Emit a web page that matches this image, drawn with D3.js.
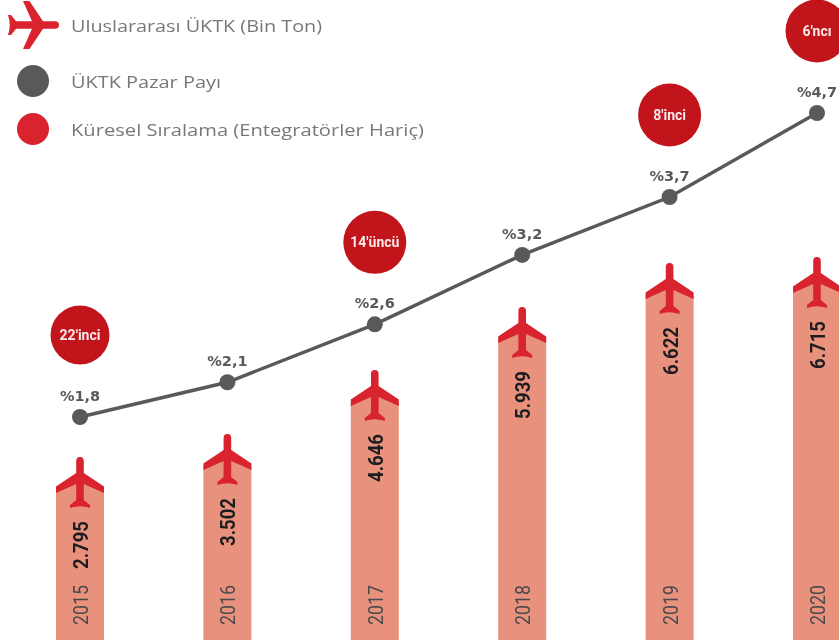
<!DOCTYPE html>
<html><head><meta charset="utf-8">
<script src="https://cdnjs.cloudflare.com/ajax/libs/d3/7.8.5/d3.min.js"></script>
<style>html,body{margin:0;padding:0;background:#fff;overflow:hidden}svg{display:block;filter:blur(0.75px)}</style>
</head><body><div id="c"></div>
<script>
const years=["2015","2016","2017","2018","2019","2020"];
const tonnage=[2795,3502,4646,5939,6622,6715];
const tonnageLabels=["2.795","3.502","4.646","5.939","6.622","6.715"];
const share=[1.8,2.1,2.6,3.2,3.7,4.7];
const shareLabels=["%1,8","%2,1","%2,6","%3,2","%3,7","%4,7"];
const ranks=["22'inci",null,"14'üncü",null,"8'inci","6'ncı"];
const legendLabels=["Uluslararası ÜKTK (Bin Ton)","ÜKTK Pazar Payı","Küresel Sıralama (Entegratörler Hariç)"];
const W=839,H=640,RED="#d9232e",DARK="#c1141b",BAR="#e8917c",GREY="#58595b";
const planePath="M-3.8,-29 Q-3.8,-33 0,-33 Q3.8,-33 3.8,-29 L3.8,-17 L24,-3.5 L24,3 L3.8,-6 L3.8,10 L10,15 L10,18 Q0,14.5 -10,18 L-10,15 L-3.8,10 L-3.8,-6 L-24,3 L-24,-3.5 L-3.8,-17 Z";

const x=d3.scalePoint().domain(years).range([80,817]);
const yBar=d3.scaleLinear().domain([2795,3502,4646,5939,6715]).range([490,467,403,340,290]);
const yLine=d3.scaleLinear().domain([1.8,3.7,4.7]).range([417,197,113]);
const svg=d3.select("#c").append("svg").attr("width",W).attr("height",H);
const rows=years.map((y,i)=>({y,t:tonnage[i],tl:tonnageLabels[i],s:share[i],sl:shareLabels[i],r:ranks[i]}));
const COND="Roboto,sans-serif";

svg.selectAll("path.bar").data(rows).join("path").attr("class","bar")
 .attr("d",d=>{const c=x(d.y),t=yBar(d.t);return `M${c-24},${H+5}V${t}L${c},${t-14}L${c+24},${t}V${H+5}Z`;}).attr("fill",BAR);
svg.selectAll("path.plane").data(rows).join("path").attr("class","plane").attr("d",planePath).attr("fill",RED)
 .attr("transform",d=>`translate(${x(d.y)},${yBar(d.t)})`);
svg.selectAll("text.val").data(rows).join("text").attr("class","val").text(d=>d.tl)
 .attr("transform",d=>`translate(${x(d.y)+8},${yBar(d.t)+55}) rotate(-90)`)
 .attr("text-anchor","middle").attr("font-family",COND).attr("font-weight",700).attr("font-size",21)
 .attr("textLength",48).attr("lengthAdjust","spacingAndGlyphs").attr("fill","#1d1d1f");
svg.selectAll("text.yr").data(rows).join("text").attr("class","yr").text(d=>d.y)
 .attr("transform",d=>`translate(${x(d.y)+8},605) rotate(-90)`)
 .attr("text-anchor","middle").attr("font-family",COND).attr("font-size",21)
 .attr("textLength",40).attr("lengthAdjust","spacingAndGlyphs").attr("fill","#4a4a4d");

svg.append("path").datum(rows).attr("fill","none").attr("stroke",GREY).attr("stroke-width",3.4)
 .attr("d",d3.line().x(d=>x(d.y)).y(d=>yLine(d.s)));
svg.selectAll("circle.pt").data(rows).join("circle").attr("class","pt").attr("cx",d=>x(d.y)).attr("cy",d=>yLine(d.s)).attr("r",8).attr("fill",GREY);
svg.selectAll("text.sh").data(rows).join("text").attr("class","sh").text(d=>d.sl)
 .attr("x",d=>x(d.y)).attr("y",d=>yLine(d.s)-16).attr("text-anchor","middle")
 .attr("font-family","'DejaVu Sans',sans-serif").attr("font-weight",700).attr("font-size",14.5).attr("fill",GREY);

const rk=rows.filter(d=>d.r);
svg.selectAll("circle.rk").data(rk).join("circle").attr("class","rk").attr("cx",d=>x(d.y)).attr("cy",d=>yLine(d.s)-82).attr("r",d=>d.y==="2015"?29.5:31.5).attr("fill",DARK);
svg.selectAll("text.rk").data(rk).join("text").attr("class","rk").text(d=>d.r)
 .attr("x",d=>x(d.y)).attr("y",d=>yLine(d.s)-77).attr("text-anchor","middle")
 .attr("font-family",COND).attr("font-weight",700).attr("font-size",14).attr("fill","#fbe9ea");

const lg=svg.append("g");
lg.append("path").attr("d",planePath).attr("fill",RED).attr("transform","translate(26,25) rotate(90)");
lg.append("circle").attr("cx",33).attr("cy",81).attr("r",16).attr("fill",GREY);
lg.append("circle").attr("cx",33).attr("cy",129).attr("r",16).attr("fill",RED);
const legendLens=[251,150,353];
lg.selectAll("text").data(legendLabels).join("text").text(d=>d)
 .attr("x",71).attr("y",(d,i)=>[32,88,136][i])
 .attr("textLength",(d,i)=>legendLens[i]).attr("lengthAdjust","spacingAndGlyphs")
 .attr("font-family","'Open Sans',sans-serif").attr("font-size",17).attr("fill","#77787b");
</script></body></html>
